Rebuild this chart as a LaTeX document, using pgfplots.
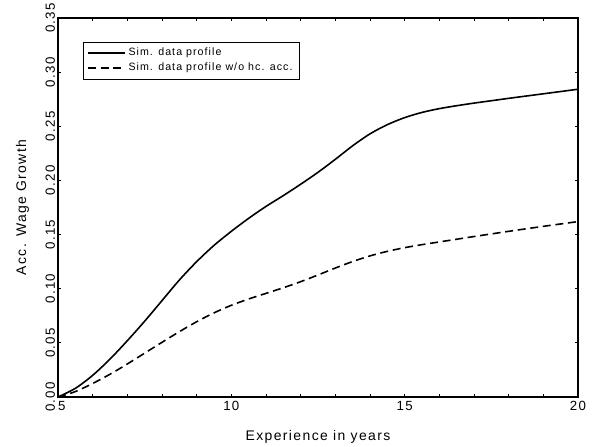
\documentclass[border=0pt]{standalone}
\usepackage{pgfplots}
\pgfplotsset{compat=1.18}
\usepackage{fontspec}
\setmainfont{Liberation Sans}[LetterSpace=10]

\begin{document}
\begin{tikzpicture}
\begin{axis}[
    scale only axis,
    width=390bp,
    height=284.25bp,
    xmin=5, xmax=20,
    ymin=0, ymax=0.35,
    xtick={5,10,15,20},
    xticklabels={\makebox[0pt][l]{5},10,15,20},
    minor xtick={6,7,8,9,11,12,13,14,16,17,18,19},
    ytick={0,0.05,0.10,0.15,0.20,0.25,0.30,0.35},
    tick align=inside,
    major tick length=2.5bp,
    minor tick length=2.5bp,
    tick style={black, line width=0.6pt},
    axis line style={line width=1.6pt},
    /pgf/number format/assume math mode=true,
    yticklabel style={/pgf/number format/fixed,
        /pgf/number format/fixed zerofill,
        /pgf/number format/precision=2,
        rotate=90, anchor=south, inner sep=2pt},
    xticklabel style={inner sep=3pt},
    ticklabel style={font=\fontsize{10}{12}\selectfont},
    label style={font=\fontsize{10.5}{12}\selectfont},
    xlabel={Experience in years},
    ylabel={Acc. Wage Growth},
    xlabel style={yshift=-8bp},
    ylabel style={yshift=7bp},
    legend style={
        at={(0.048,0.937)}, anchor=north west,
        font=\fontsize{8}{9}\selectfont,
        draw=black,
        inner xsep=3pt, inner ysep=2.5pt,
        row sep=0pt,
    },
    legend cell align=left,
    legend image code/.code={\draw[#1, line width=1.2pt] (0cm,0cm) -- (0.98cm,0cm);},
]
% simulated profile with human capital accumulation
\addplot[black, line width=1.2pt, smooth] coordinates {
    (5,0) (5.5,0.008) (6,0.020) (6.5,0.035) (7,0.052) (7.5,0.070)
    (8,0.089) (8.5,0.108) (9,0.125) (9.5,0.140) (10,0.153) (10.5,0.165)
    (11,0.176) (11.5,0.186) (12,0.1965) (12.5,0.2075) (13,0.2195) (13.5,0.232)
    (14,0.243) (14.5,0.2515) (15,0.258) (15.5,0.2628) (16,0.2663) (16.5,0.2690)
    (17,0.2714) (17.5,0.2736) (18,0.2758) (18.5,0.2779) (19,0.2800)
    (19.5,0.2821) (20,0.2842)
};
\addlegendentry{Sim. data profile}

% without human capital accumulation
\addplot[black, line width=1.2pt, smooth, dash pattern=on 6bp off 3.5bp] coordinates {
    (5,0) (5.5,0.005) (6,0.0125) (6.5,0.021) (7,0.0305) (7.5,0.0405)
    (8,0.0505) (8.5,0.0603) (9,0.0695) (9.5,0.0777) (10,0.0847) (10.5,0.0905)
    (11,0.0957) (11.5,0.1009) (12,0.1065) (12.5,0.1127) (13,0.1191) (13.5,0.1251)
    (14,0.1303) (14.5,0.1345) (15,0.1379) (15.5,0.1407) (16,0.1432) (16.5,0.1457)
    (17,0.1482) (17.5,0.1506) (18,0.1530) (18.5,0.1553) (19,0.1576)
    (19.5,0.1598) (20,0.1620)
};
\addlegendentry{Sim. data profile w/o hc. acc.}
\end{axis}
\pgfresetboundingbox
\path ([xshift=-43.5bp,yshift=-37.5bp]current axis.south west)
    rectangle ([xshift=18bp,yshift=13.5bp]current axis.north east);
\end{tikzpicture}
\end{document}
